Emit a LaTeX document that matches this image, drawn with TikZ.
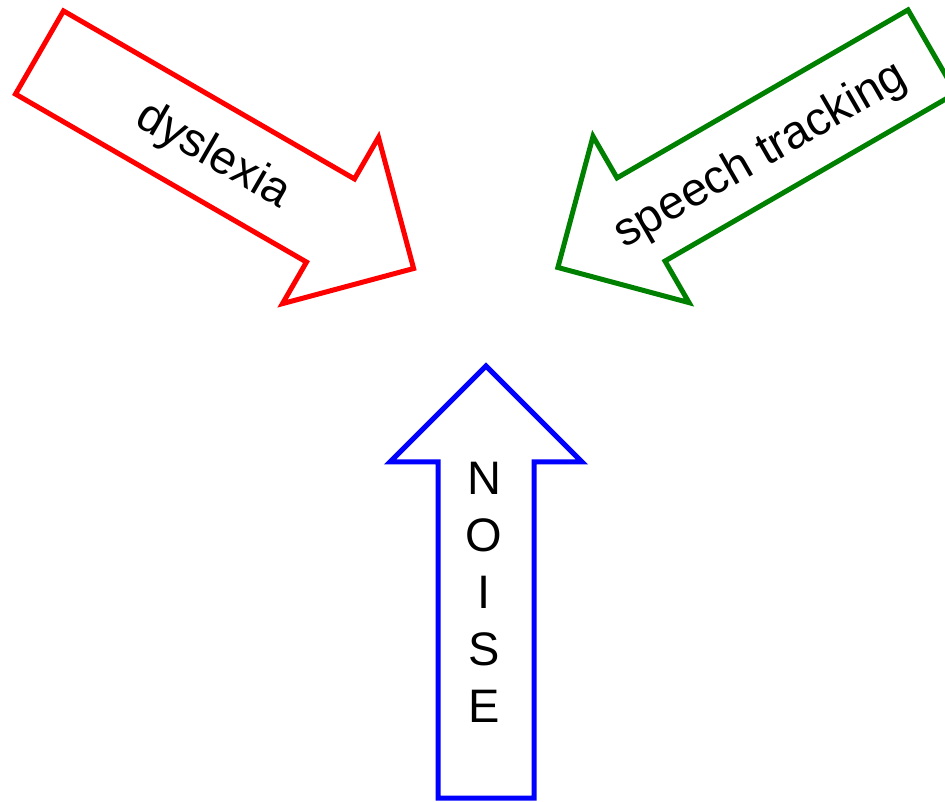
\documentclass[tikz,border=0pt]{standalone}
\usepackage{fontspec}
\setmainfont{Liberation Sans}
\definecolor{arrowred}{RGB}{255,0,0}
\definecolor{arrowgreen}{RGB}{0,128,0}
\definecolor{arrowblue}{RGB}{0,0,255}
\begin{document}
\begin{tikzpicture}[x=1pt,y=1pt,
  blockarrow/.style={line width=5pt, line join=miter},
  lbl/.style={font=\fontsize{47}{57}\selectfont, inner sep=0pt, text=black}]
\useasboundingbox (0,0) rectangle (945,801);
\clip (0,0) rectangle (945,801);

% red block arrow, pointing down-right
\draw[blockarrow, draw=arrowred, shift={(39.5,748.5)}, rotate=-30]
  (0,-48) -- (336,-48) -- (336,-96) -- (432,0) -- (336,96) -- (336,48) -- (0,48) -- cycle;
\node[lbl, rotate=-30] (dyslexia) at (213,645) {dyslexia};

% green block arrow, pointing down-left
\draw[blockarrow, draw=arrowgreen, shift={(932,749.5)}, rotate=210]
  (0,-48) -- (336,-48) -- (336,-96) -- (432,0) -- (336,96) -- (336,48) -- (0,48) -- cycle;
\node[lbl, rotate=30] (speech) at (761,645) {speech tracking};

% blue block arrow, pointing up
\draw[blockarrow, draw=arrowblue, shift={(486,3)}, rotate=90]
  (0,-48) -- (336,-48) -- (336,-96) -- (432,0) -- (336,96) -- (336,48) -- (0,48) -- cycle;
\node[lbl, align=center] (noise) at (484,208.5) {N\\O\\I\\S\\E};
\end{tikzpicture}
\end{document}
